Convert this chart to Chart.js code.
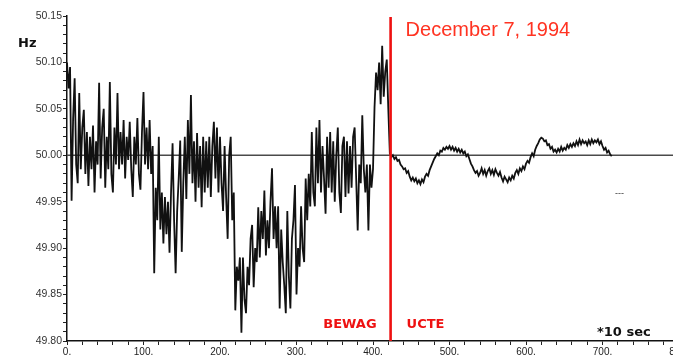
<!DOCTYPE html>
<html>
<head>
<meta charset="utf-8">
<script src="https://cdn.jsdelivr.net/npm/chart.js@4.4.1/dist/chart.umd.min.js"></script>
<style>
  html, body { margin: 0; padding: 0; background: #fff; overflow: hidden; }
  #wrap { width: 700px; height: 360px; }
</style>
</head>
<body>
<div id="wrap"><canvas id="freq" width="700" height="360"></canvas></div>
<script>
// Time axis is in units of 10 seconds.
const bewagStart = 0;
const bewagStep = 2;
// Berlin (BEWAG) island operation, before synchronisation
const bewagHz = [
  50.100, 50.072, 50.095, 49.951, 50.040, 50.083, 49.990, 49.970, 50.067, 49.985,
  50.030, 50.049, 49.980, 50.025, 49.967, 50.020, 49.985, 50.032, 49.960, 50.015,
  49.990, 50.078, 49.975, 50.030, 50.050, 49.965, 50.020, 49.985, 50.079, 49.980,
  49.960, 50.030, 49.990, 50.067, 49.985, 50.025, 49.990, 50.038, 49.975, 50.020,
  49.995, 50.036, 49.985, 49.955, 50.020, 49.990, 50.040, 49.980, 49.963, 50.025,
  50.068, 49.990, 50.030, 49.985, 50.038, 49.980, 50.010, 49.873, 49.965, 49.930,
  50.020, 49.920, 49.960, 49.905, 49.955, 49.915, 49.950, 49.895, 49.960, 50.013,
  49.930, 49.873, 49.940, 49.975, 50.016, 49.896, 49.970, 50.020, 49.953, 50.038,
  49.980, 50.065, 49.970, 50.015, 49.950, 50.024, 49.965, 50.010, 49.944, 50.020,
  49.960, 50.015, 49.965, 50.020, 49.955, 50.010, 50.036, 49.975, 50.030, 49.960,
  50.020, 49.970, 49.940, 50.010, 49.955, 49.910, 50.000, 50.020, 49.930, 49.960,
  49.833, 49.880, 49.865, 49.890, 49.809, 49.890, 49.845, 49.830, 49.880, 49.860,
  49.910, 49.925, 49.858, 49.900, 49.885, 49.944, 49.890, 49.940, 49.910, 49.962,
  49.892, 49.930, 49.900, 49.950, 49.986, 49.910, 49.945, 49.900, 49.945, 49.835,
  49.920, 49.885, 49.860, 49.830, 49.940, 49.870, 49.835, 49.910, 49.930, 49.968,
  49.850, 49.900, 49.880, 49.945, 49.900, 49.885, 49.975, 49.930, 49.980, 49.945,
  50.025, 49.960, 49.945, 50.030, 49.970, 50.038, 49.960, 50.010, 49.975, 49.937,
  50.020, 49.965, 50.025, 49.960, 50.015, 49.950, 50.000, 50.030, 49.960, 49.938,
  50.010, 50.020, 49.955, 50.015, 49.959, 50.010, 49.965, 50.020, 50.030, 49.975,
  49.919, 49.990, 49.970, 50.043, 49.985, 49.960, 49.990, 49.919, 49.990, 49.965,
  49.985, 50.052, 50.089, 50.070, 50.100, 50.055, 50.118, 50.063, 50.090, 50.103,
  50.050
];

const ucteStart = 422;
const ucteStep = 2;
// After connection to the UCTE interconnected grid
const ucteHz = [
  50.002, 49.998, 50.000, 49.996, 49.998, 49.994, 49.995, 49.990, 49.988, 49.985,
  49.986, 49.981, 49.983, 49.977, 49.973, 49.976, 49.972, 49.975, 49.970, 49.973,
  49.969, 49.974, 49.971, 49.977, 49.980, 49.978, 49.984, 49.988, 49.992, 49.996,
  49.999, 50.002, 50.000, 50.005, 50.004, 50.008, 50.006, 50.009, 50.007, 50.010,
  50.006, 50.009, 50.005, 50.008, 50.004, 50.007, 50.003, 50.006, 50.002, 50.004,
  49.999, 50.001, 49.996, 49.991, 49.988, 49.984, 49.981, 49.983, 49.978, 49.981,
  49.986, 49.980, 49.984, 49.978, 49.983, 49.986, 49.980, 49.984, 49.979, 49.985,
  49.981, 49.978, 49.982, 49.976, 49.972, 49.977, 49.974, 49.971, 49.976, 49.973,
  49.978, 49.975, 49.981, 49.984, 49.980, 49.986, 49.983, 49.988, 49.985, 49.991,
  49.994, 49.992, 49.998, 50.002, 49.999, 50.006, 50.010, 50.013, 50.017, 50.019,
  50.018, 50.015, 50.016, 50.011, 50.012, 50.007, 50.009, 50.004, 50.006, 50.003,
  50.007, 50.004, 50.009, 50.005, 50.008, 50.006, 50.011, 50.008, 50.012, 50.009,
  50.013, 50.010, 50.015, 50.011, 50.017, 50.012, 50.016, 50.013, 50.015, 50.011,
  50.016, 50.012, 50.017, 50.013, 50.016, 50.014, 50.017, 50.012, 50.015, 50.010,
  50.006, 50.008, 50.003, 50.005, 50.001, 49.999
];

const connectionStep = 423;   // moment of synchronisation
const nominalHz = 50.00;
const xTickLabels = [0, 100, 200, 300, 400, 500, 600, 700, 800];

const points = [];
bewagHz.forEach((v, i) => points.push({ x: bewagStart + i * bewagStep, y: v }));
ucteHz.forEach((v, i) => points.push({ x: ucteStart + i * ucteStep, y: v }));

const overlay = {
  id: 'overlay',
  beforeDatasetsDraw(chart) {
    const { ctx, chartArea, scales } = chart;
    const y0 = scales.y.getPixelForValue(nominalHz);
    ctx.save();
    ctx.strokeStyle = '#4a4a4a';
    ctx.lineWidth = 1.5;
    ctx.beginPath();
    ctx.moveTo(chartArea.left, y0);
    ctx.lineTo(chartArea.right, y0);
    ctx.stroke();
    ctx.restore();
  },
  afterDatasetsDraw(chart) {
    const { ctx, chartArea, scales } = chart;
    const xc = scales.x.getPixelForValue(connectionStep);
    ctx.save();
    ctx.strokeStyle = '#ee1111';
    ctx.lineWidth = 2.6;
    ctx.beginPath();
    ctx.moveTo(xc, chartArea.top + 1);
    ctx.lineTo(xc, chartArea.bottom);
    ctx.stroke();

    ctx.textBaseline = 'alphabetic';
    ctx.fillStyle = '#ff3322';
    ctx.font = '20px "Liberation Sans", Arial, sans-serif';
    ctx.textAlign = 'left';
    ctx.fillText('December 7, 1994', xc + 15, 36);

    ctx.fillStyle = '#ee1111';
    ctx.font = 'bold 13px "DejaVu Sans", Verdana, sans-serif';
    ctx.textAlign = 'right';
    ctx.fillText('BEWAG', xc - 14, 328);
    ctx.textAlign = 'left';
    ctx.fillText('UCTE', xc + 16, 328);

    ctx.fillStyle = '#111';
    ctx.fillText('*10 sec', 597, 336);
    ctx.fillText('Hz', 18, 47);

    ctx.font = '9px "Liberation Sans", Arial, sans-serif';
    ctx.fillStyle = '#333';
    ctx.fillText('---', 615, 196);
    ctx.restore();
  }
};

new Chart(document.getElementById('freq'), {
  type: 'line',
  data: {
    datasets: [{
      data: points,
      borderColor: '#111',
      borderWidth: 1.8,
      pointRadius: 0,
      tension: 0,
      fill: false
    }]
  },
  options: {
    responsive: false,
    animation: false,
    devicePixelRatio: 1,
    layout: { padding: { top: 16, right: 21, left: 0, bottom: 0 } },
    plugins: { legend: { display: false }, tooltip: { enabled: false } },
    scales: {
      x: {
        type: 'linear',
        min: 0,
        max: 800,
        afterFit(s) { s.height = 19; },
        border: { display: true, color: '#111', width: 1.5 },
        grid: { drawOnChartArea: false, drawTicks: true, tickLength: 4, color: '#222' },
        ticks: {
          stepSize: 20,
          autoSkip: false,
          maxRotation: 0,
          padding: 1,
          color: '#222',
          font: { family: '"Liberation Sans", Arial, sans-serif', size: 10 },
          callback(v) { return xTickLabels.includes(v) ? v + '.' : ''; }
        }
      },
      y: {
        min: 49.80,
        max: 50.15,
        afterFit(s) { s.width = 67; },
        border: { display: true, color: '#111', width: 1.5 },
        grid: { drawOnChartArea: false, drawTicks: true, tickLength: 4, color: '#222' },
        ticks: {
          stepSize: 0.01,
          autoSkip: false,
          padding: 1,
          color: '#333',
          font: { family: '"Liberation Sans", Arial, sans-serif', size: 10.5 },
          callback(v) {
            const c = Math.round(v * 100);
            return c % 5 === 0 ? (c / 100).toFixed(2) : '';
          }
        }
      }
    }
  },
  plugins: [overlay]
});
</script>
</body>
</html>
